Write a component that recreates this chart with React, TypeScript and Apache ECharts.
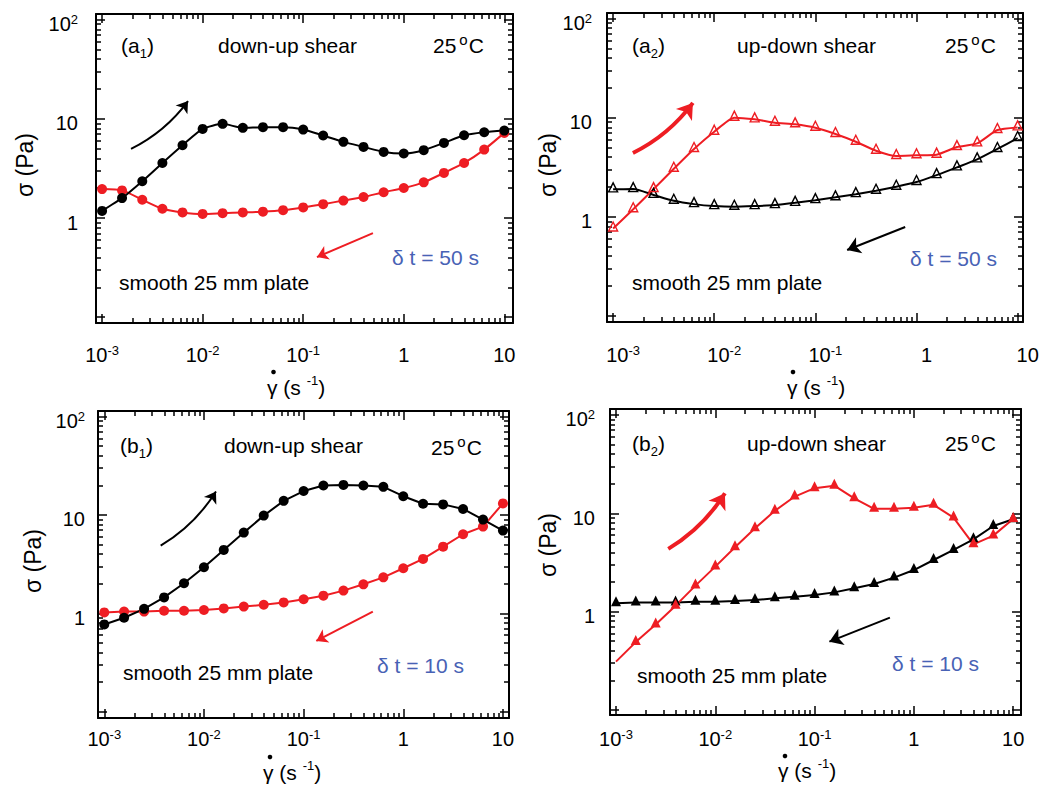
import { useEffect, useRef } from "react";
import * as echarts from "echarts";

const FONT = "Liberation Sans, Arial, sans-serif";
const BLACK = "#000000";
const RED = "#ee1d23";
const BLUE = "#4862b5";

// Shear rates of every sweep (s^-1), 0.2 decade apart
const shearRate = [
  0.001, 0.00158, 0.00251, 0.00398, 0.00631, 0.01, 0.0158, 0.0251, 0.0398, 0.0631,
  0.1, 0.158, 0.251, 0.398, 0.631, 1, 1.58, 2.51, 3.98, 6.31, 10,
];

// (a1) down-up shear, δt = 50 s — stress (Pa)
const a1Up = [1.18, 1.59, 2.35, 3.59, 5.42, 7.92, 8.9, 8.11, 8.24, 8.24, 7.8, 6.79, 5.86, 5.21, 4.64, 4.47, 4.83, 5.72, 6.84, 7.33, 7.62];
const a1Down = [1.96, 1.9, 1.53, 1.24, 1.14, 1.1, 1.12, 1.14, 1.16, 1.2, 1.28, 1.38, 1.5, 1.63, 1.82, 2.01, 2.29, 2.85, 3.59, 4.9, 7.22];

// (a2) up-down shear, δt = 50 s
const a2Up = [0.76, 1.19, 1.9, 3.05, 4.83, 7.22, 10.0, 9.62, 8.9, 8.57, 7.92, 6.84, 5.72, 4.64, 4.1, 4.17, 4.23, 5.05, 5.5, 7.5, 7.98];
const a2Down = [1.89, 1.9, 1.66, 1.45, 1.34, 1.28, 1.26, 1.28, 1.31, 1.38, 1.47, 1.57, 1.69, 1.83, 2.01, 2.24, 2.63, 3.15, 3.79, 4.83, 6.23];

// (b1) down-up shear, δt = 10 s
const b1Up = [0.77, 0.9, 1.11, 1.45, 2.02, 2.94, 4.41, 6.61, 9.84, 13.9, 17.5, 19.9, 20.2, 19.9, 19.3, 15.5, 13.0, 12.8, 11.5, 8.97, 6.93];
const b1Down = [1.02, 1.04, 1.04, 1.06, 1.06, 1.08, 1.12, 1.17, 1.22, 1.29, 1.39, 1.51, 1.7, 1.97, 2.32, 2.87, 3.57, 4.76, 6.36, 7.61, 13.1];

// (b2) up-down shear, δt = 10 s
const b2Up = [0.31, 0.49, 0.74, 1.15, 1.84, 2.87, 4.51, 7.04, 10.6, 14.8, 18.0, 19.1, 14.2, 11.1, 11.1, 11.4, 12.2, 9.04, 4.84, 5.93, 8.75];
const b2Down = [1.22, 1.24, 1.24, 1.24, 1.26, 1.26, 1.28, 1.31, 1.37, 1.42, 1.48, 1.57, 1.73, 1.91, 2.22, 2.65, 3.35, 4.24, 5.44, 7.43, 8.69];

// Tick positions of the log axes
const xMajor = [0.001, 0.01, 0.1, 1, 10];
const xMinor = [
  0.002, 0.003, 0.004, 0.005, 0.006, 0.007, 0.008, 0.009,
  0.02, 0.03, 0.04, 0.05, 0.06, 0.07, 0.08, 0.09,
  0.2, 0.3, 0.4, 0.5, 0.6, 0.7, 0.8, 0.9,
  2, 3, 4, 5, 6, 7, 8, 9,
];
const yMajor = [0.1, 1, 10, 100];
const yLabelValues = [1, 10, 100];
const yMinor = [
  0.2, 0.3, 0.4, 0.5, 0.6, 0.7, 0.8, 0.9,
  2, 3, 4, 5, 6, 7, 8, 9,
  20, 30, 40, 50, 60, 70, 80, 90,
];

// Direction arrows: [start, end] in data coordinates of each panel
const a1Arrows = [
  [[0.00194, 4.98], [0.00716, 15.1]],
  [[0.494, 0.705], [0.137, 0.404]],
];
const a2Arrows = [
  [[0.00157, 4.4], [0.00615, 14.1]],
  [[0.773, 0.787], [0.206, 0.461]],
];
const b1Arrows = [
  [[0.00368, 4.87], [0.0132, 17.3]],
  [[0.495, 1.04], [0.134, 0.523]],
];
const b2Arrows = [
  [[0.00336, 4.35], [0.0125, 16.0]],
  [[0.574, 0.869], [0.141, 0.495]],
];

type Panel = {
  up: number[];
  down: number[];
  upColor: string;
  downColor: string;
  marker: "circle" | "triangle";
  hollow: boolean;
  smooth: number | boolean;
  hideFirstUp: boolean;
  arrows: number[][][];
  grid: { left: number; top: number; width: number; height: number };
  xRange: [number, number];
  yRange: [number, number];
  xLabelMargin: number;
  xLabelShift: number;
  yLabelMargin: number;
};

const panels: Panel[] = [
  {
    up: a1Up, down: a1Down, upColor: BLACK, downColor: RED, marker: "circle", hollow: false,
    smooth: 0.2, hideFirstUp: false, arrows: a1Arrows,
    grid: { left: 96, top: 14, width: 417, height: 309 },
    xRange: [0.00087, 12.2], yRange: [0.0875, 114], xLabelMargin: 21, xLabelShift: 0, yLabelMargin: 18,
  },
  {
    up: a2Up, down: a2Down, upColor: RED, downColor: BLACK, marker: "triangle", hollow: true,
    smooth: 0.2, hideFirstUp: false, arrows: a2Arrows,
    grid: { left: 607, top: 13, width: 416, height: 309 },
    xRange: [0.00087, 11.3], yRange: [0.0865, 114], xLabelMargin: 22, xLabelShift: 20, yLabelMargin: 15,
  },
  {
    up: b1Up, down: b1Down, upColor: BLACK, downColor: RED, marker: "circle", hollow: false,
    smooth: false, hideFirstUp: false, arrows: b1Arrows,
    grid: { left: 98, top: 411, width: 411, height: 307 },
    xRange: [0.000865, 11.5], yRange: [0.0861, 114], xLabelMargin: 10, xLabelShift: 0, yLabelMargin: 13,
  },
  {
    up: b2Up, down: b2Down, upColor: RED, downColor: BLACK, marker: "triangle", hollow: false,
    smooth: false, hideFirstUp: true, arrows: b2Arrows,
    grid: { left: 610, top: 409, width: 411, height: 306 },
    xRange: [0.00087, 12.0], yRange: [0.0889, 115], xLabelMargin: 13, xLabelShift: 0, yLabelMargin: 15,
  },
];

const labelRich = {
  sup: { fontSize: 13, lineHeight: 13, verticalAlign: "top", fontFamily: FONT, color: BLACK },
};

function xLabel(v: number) {
  const e = Math.round(Math.log10(v));
  if (e < 0) return `10{sup|${e}}`;
  return e === 0 ? "1" : "10";
}

function yLabel(v: number) {
  const e = Math.round(Math.log10(v));
  if (e === 2) return "10{sup|2}";
  return e === 1 ? "10" : "1";
}

function boxLine(show: boolean) {
  return { show, onZero: false, lineStyle: { color: BLACK, width: 2 } };
}

function ticks(values: number[], length: number) {
  return { show: true, inside: true, length, customValues: values, lineStyle: { color: BLACK, width: 1.5 } };
}

function xAxesFor(g: number, p: Panel) {
  const base = {
    type: "log", logBase: 10, gridIndex: g, min: p.xRange[0], max: p.xRange[1],
    splitLine: { show: false }, axisPointer: { show: false },
  };
  return [
    {
      ...base, position: "bottom", axisLine: boxLine(true), axisTick: ticks(xMajor, 9),
      axisLabel: {
        show: true, customValues: xMajor, formatter: xLabel, margin: p.xLabelMargin,
        fontSize: 20, lineHeight: 22, fontFamily: FONT, color: BLACK,
        padding: [0, 0, 0, p.xLabelShift], rich: labelRich,
      },
    },
    { ...base, position: "bottom", axisLine: boxLine(false), axisTick: ticks(xMinor, 5), axisLabel: { show: false } },
    { ...base, position: "top", axisLine: boxLine(true), axisTick: ticks(xMajor, 9), axisLabel: { show: false } },
    { ...base, position: "top", axisLine: boxLine(false), axisTick: ticks(xMinor, 5), axisLabel: { show: false } },
  ];
}

function yAxesFor(g: number, p: Panel) {
  const base = {
    type: "log", logBase: 10, gridIndex: g, min: p.yRange[0], max: p.yRange[1],
    splitLine: { show: false }, axisPointer: { show: false },
  };
  return [
    {
      ...base, position: "left", axisLine: boxLine(true), axisTick: ticks(yMajor, 9),
      axisLabel: {
        show: true, customValues: yLabelValues, formatter: yLabel, margin: p.yLabelMargin,
        fontSize: 20, lineHeight: 22, fontFamily: FONT, color: BLACK,
        padding: [9, 0, 0, 0], rich: labelRich,
      },
    },
    { ...base, position: "left", axisLine: boxLine(false), axisTick: ticks(yMinor, 5), axisLabel: { show: false } },
    { ...base, position: "right", axisLine: boxLine(true), axisTick: ticks(yMajor, 9), axisLabel: { show: false } },
    { ...base, position: "right", axisLine: boxLine(false), axisTick: ticks(yMinor, 5), axisLabel: { show: false } },
  ];
}

function sweepSeries(g: number, p: Panel, values: number[], color: string, hideFirst: boolean) {
  const isTri = p.marker === "triangle";
  const data = shearRate.map((x, i) =>
    hideFirst && i === 0 ? { value: [x, values[i]], symbol: "none" } : [x, values[i]]
  );
  return {
    type: "line",
    xAxisIndex: g * 4,
    yAxisIndex: g * 4,
    data,
    smooth: p.smooth,
    symbol: p.marker,
    symbolSize: isTri ? (p.hollow ? 9 : 10) : 10,
    symbolOffset: isTri ? [0, -2] : [0, 0],
    lineStyle: { color, width: 2 },
    itemStyle: p.hollow
      ? { color: "rgba(255,255,255,0)", borderColor: color, borderWidth: 1.4 }
      : { color },
    emphasis: { disabled: true },
    z: 3,
  };
}

function arrowSeries(g: number, coords: number[][], color: string, width: number, size: number, curveness: number) {
  return {
    type: "lines",
    coordinateSystem: "cartesian2d",
    xAxisIndex: g * 4,
    yAxisIndex: g * 4,
    symbol: ["none", "arrow"],
    symbolSize: size,
    lineStyle: { color, width, curveness, opacity: 1 },
    emphasis: { disabled: true },
    data: [{ coords }],
    z: 4,
  };
}

const textRich = {
  sub: { fontSize: 13, lineHeight: 13, verticalAlign: "bottom", fontFamily: FONT },
  sup: { fontSize: 13, lineHeight: 13, verticalAlign: "top", fontFamily: FONT },
  deg: { fontSize: 15, lineHeight: 15, verticalAlign: "top", fontFamily: FONT, padding: [0, 1, 0, 3] },
};

function label(
  x: number,
  y: number,
  text: string,
  opts: { fill?: string; align?: string; lineHeight?: number; rotation?: number; size?: number } = {}
) {
  const align = opts.align ?? "left";
  return {
    type: "text",
    x,
    y,
    rotation: opts.rotation ?? 0,
    silent: true,
    z: 10,
    style: {
      text,
      fill: opts.fill ?? BLACK,
      fontSize: opts.size ?? 21,
      fontFamily: FONT,
      lineHeight: opts.lineHeight ?? 24,
      textAlign: align,
      align,
      textVerticalAlign: "middle",
      verticalAlign: "middle",
      rich: textRich,
    },
  };
}

function dot(x: number, y: number) {
  return { type: "circle", silent: true, z: 10, shape: { cx: x, cy: y, r: 2.3 }, style: { fill: BLACK } };
}

const yTitle = { align: "center", rotation: Math.PI / 2, size: 23 };

const annotations = [
  // (a1)
  label(121, 45, "(a{sub|1})", { lineHeight: 29 }),
  label(218, 45, "down-up shear"),
  label(433, 45, "25{deg|o}C", { lineHeight: 27 }),
  label(119, 282, "smooth 25 mm plate"),
  label(392, 257, "δ t = 50 s", { fill: BLUE }),
  label(25, 165, "σ (Pa)", yTitle),
  label(267, 387, "γ (s {sup|-1})", { lineHeight: 27 }),
  dot(273.5, 372),
  // (a2)
  label(632, 45, "(a{sub|2})", { lineHeight: 29 }),
  label(737, 45, "up-down shear"),
  label(945, 45, "25{deg|o}C", { lineHeight: 27 }),
  label(632, 282, "smooth 25 mm plate"),
  label(910, 258, "δ t = 50 s", { fill: BLUE }),
  label(548, 165, "σ (Pa)", yTitle),
  label(787, 387, "γ (s {sup|-1})", { lineHeight: 27 }),
  dot(793, 372),
  // (b1)
  label(120, 445, "(b{sub|1})", { lineHeight: 29 }),
  label(224, 445, "down-up shear"),
  label(431, 447, "25{deg|o}C", { lineHeight: 27 }),
  label(123, 672, "smooth 25 mm plate"),
  label(377, 665, "δ t = 10 s", { fill: BLUE }),
  label(33, 561, "σ (Pa)", yTitle),
  label(263, 772, "γ (s {sup|-1})", { lineHeight: 27 }),
  dot(270, 757),
  // (b2)
  label(632, 443, "(b{sub|2})", { lineHeight: 29 }),
  label(747, 443, "up-down shear"),
  label(945, 443, "25{deg|o}C", { lineHeight: 27 }),
  label(637, 675, "smooth 25 mm plate"),
  label(892, 663, "δ t = 10 s", { fill: BLUE }),
  label(548, 545, "σ (Pa)", yTitle),
  label(778, 770, "γ (s {sup|-1})", { lineHeight: 27 }),
  dot(785, 756),
];

function buildOption() {
  const grid = panels.map((p) => ({ ...p.grid, containLabel: false }));
  const xAxis = panels.flatMap((p, g) => xAxesFor(g, p));
  const yAxis = panels.flatMap((p, g) => yAxesFor(g, p));
  const series: any[] = [];
  panels.forEach((p, g) => {
    series.push(sweepSeries(g, p, p.down, p.downColor, false));
    series.push(sweepSeries(g, p, p.up, p.upColor, p.hideFirstUp));
    const thickUp = p.upColor === RED;
    series.push(arrowSeries(g, p.arrows[0], p.upColor, thickUp ? 4 : 2, thickUp ? 15 : 11, -0.12));
    series.push(arrowSeries(g, p.arrows[1], p.downColor, 2, p.downColor === BLACK ? 13 : 11, 0));
  });
  return {
    animation: false,
    backgroundColor: "#ffffff",
    textStyle: { fontFamily: FONT },
    grid,
    xAxis,
    yAxis,
    series,
    graphic: { elements: annotations },
  };
}

export default function App() {
  const ref = useRef<HTMLDivElement>(null);
  useEffect(() => {
    if (!ref.current) return;
    const chart = echarts.init(ref.current, null, { renderer: "svg" });
    chart.setOption(buildOption() as any);
    return () => chart.dispose();
  }, []);
  return (
    <div
      ref={ref}
      style={{ position: "absolute", left: 0, top: 0, width: 1044, height: 785, background: "#ffffff" }}
    />
  );
}
